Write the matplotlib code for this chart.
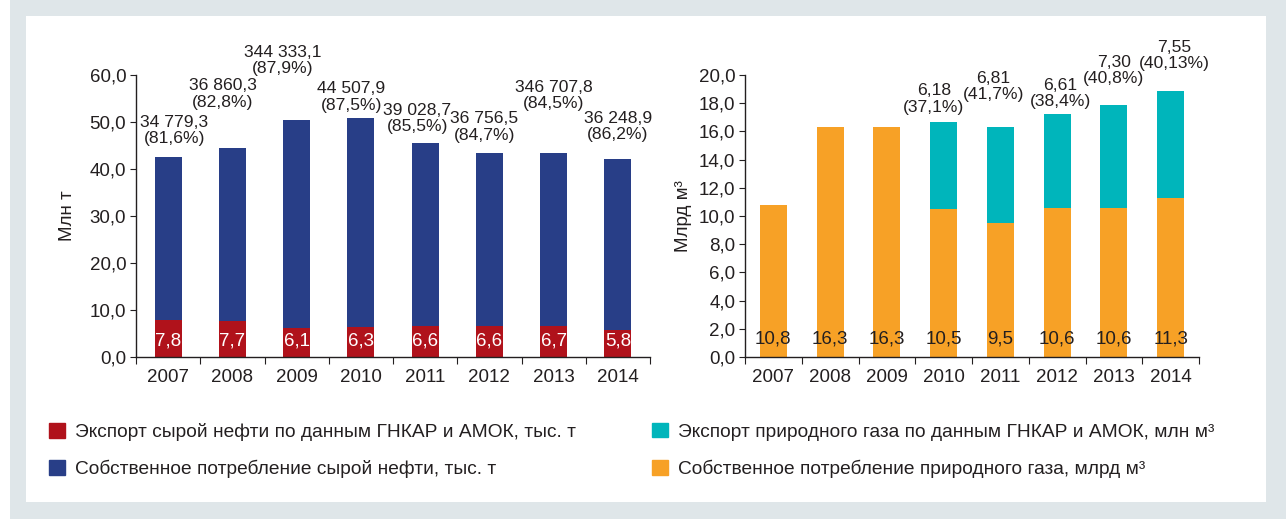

# oil and gas charts: export vs own consumption, 2007-2014
import matplotlib
matplotlib.use("Agg")
import matplotlib.pyplot as plt
from matplotlib.patches import Rectangle, Patch
from matplotlib.ticker import FuncFormatter

plt.rcParams['font.family'] = ['Liberation Sans', 'DejaVu Sans']

years = ['2007', '2008', '2009', '2010', '2011', '2012', '2013', '2014']

# oil, mln t
oil_export = [7.8, 7.7, 6.1, 6.3, 6.6, 6.6, 6.7, 5.8]
oil_own = [34.7793, 36.8603, 44.3331, 44.5079, 39.0287, 36.7565, 36.7078, 36.2489]
oil_export_labels = ['7,8', '7,7', '6,1', '6,3', '6,6', '6,6', '6,7', '5,8']
oil_top_labels = ['34 779,3\n(81,6%)', '36 860,3\n(82,8%)', '344 333,1\n(87,9%)',
                  '44 507,9\n(87,5%)', '39 028,7\n(85,5%)', '36 756,5\n(84,7%)',
                  '346 707,8\n(84,5%)', '36 248,9\n(86,2%)']

# gas, bln m3
gas_own = [10.8, 16.3, 16.3, 10.5, 9.5, 10.6, 10.6, 11.3]
gas_export = [0, 0, 0, 6.18, 6.81, 6.61, 7.30, 7.55]
gas_own_labels = ['10,8', '16,3', '16,3', '10,5', '9,5', '10,6', '10,6', '11,3']
gas_top_labels = ['', '', '', '6,18\n(37,1%)', '6,81\n(41,7%)', '6,61\n(38,4%)',
                  '7,30\n(40,8%)', '7,55\n(40,13%)']

# label placement (x shift in categories, y centre in data units)
oil_lbl_dx = [0.1, -0.15, -0.22, -0.15, -0.12, -0.08, 0.0, 0.0]
oil_lbl_y = [48.2, 55.95, 63.1, 55.3, 50.8, 48.9, 55.65, 49.1]
gas_lbl_dx = [0, 0, 0, -0.17, -0.12, 0.06, 0.0, 0.07]
gas_lbl_y = [0, 0, 0, 18.3, 19.2, 18.7, 20.3, 21.4]

RED = '#B0121B'
BLUE = '#283E87'
CYAN = '#00B5BB'
ORANGE = '#F7A126'
TXT = '#231F20'
BG = '#DFE6E9'
FS = 13.5      # ticks, bar values
FS_TOP = 12.6  # labels above bars
FS_LEG = 13.8

W, H = 1286, 519
fig = plt.figure(figsize=(W / 100, H / 100), dpi=100)
fig.patch.set_facecolor('white')
fig.patches.append(Rectangle((10 / W, 0), 1 - 10 / W, 1, transform=fig.transFigure,
                             facecolor=BG, edgecolor='none', zorder=-10))
fig.patches.append(Rectangle((26 / W, 17 / H), 1240 / W, 486 / H, transform=fig.transFigure,
                             facecolor='white', edgecolor='none', zorder=-9))

comma = FuncFormatter(lambda v, p: ('%.1f' % v).replace('.', ','))


def style_axes(ax, ymax, ystep):
    ax.set_xlim(-0.5, 7.5)
    ax.set_ylim(0, ymax)
    ax.spines['top'].set_visible(False)
    ax.spines['right'].set_visible(False)
    for s in ('left', 'bottom'):
        ax.spines[s].set_color(TXT)
        ax.spines[s].set_linewidth(1.0)
    ax.set_yticks([i * ystep for i in range(int(round(ymax / ystep)) + 1)])
    ax.yaxis.set_major_formatter(comma)
    ax.set_xticks([i - 0.5 for i in range(9)])
    ax.set_xticklabels([])
    ax.set_xticks(range(8), minor=True)
    ax.set_xticklabels(years, minor=True)
    ax.tick_params(axis='x', which='major', direction='out', length=5, color=TXT)
    ax.tick_params(axis='x', which='minor', length=0, pad=9, labelsize=FS, labelcolor=TXT)
    ax.tick_params(axis='y', direction='out', length=4, color=TXT, labelsize=FS,
                   labelcolor=TXT, pad=3)
    ax.patch.set_alpha(0)


x = list(range(8))

# left chart - oil
ax1 = fig.add_axes([136 / W, (H - 357) / H, 514 / W, 282 / H])
ax1.bar(x, oil_export, width=0.42, color=RED)
ax1.bar(x, oil_own, width=0.42, bottom=oil_export, color=BLUE)
style_axes(ax1, 60, 10)
ax1.set_ylabel('Млн т', fontsize=FS, color=TXT, labelpad=10)
for i in x:
    ax1.text(i, 3.5, oil_export_labels[i], ha='center', va='center', color='white', fontsize=FS)
    ax1.text(i + oil_lbl_dx[i], oil_lbl_y[i], oil_top_labels[i], ha='center', va='center',
             color=TXT, fontsize=FS_TOP, linespacing=1.12)

# right chart - gas
ax2 = fig.add_axes([745 / W, (H - 357) / H, 454 / W, 282 / H])
ax2.bar(x, gas_own, width=0.48, color=ORANGE)
ax2.bar(x, gas_export, width=0.48, bottom=gas_own, color=CYAN)
style_axes(ax2, 20, 2)
ax2.set_ylabel('Млрд м³', fontsize=FS, color=TXT, labelpad=5)
for i in x:
    ax2.text(i, 1.25, gas_own_labels[i], ha='center', va='center', color=TXT, fontsize=FS)
    if gas_top_labels[i]:
        ax2.text(i + gas_lbl_dx[i], gas_lbl_y[i], gas_top_labels[i], ha='center', va='center',
                 color=TXT, fontsize=FS_TOP, linespacing=1.12)

# legends
leg_kw = dict(frameon=False, fontsize=FS_LEG, handlelength=0.83, handleheight=0.78,
              handletextpad=0.52, labelspacing=0.98, loc='upper left', labelcolor=TXT,
              borderaxespad=0, borderpad=0)
leg1 = fig.legend(handles=[Patch(color=RED, label='Экспорт сырой нефти по данным ГНКАР и АМОК, тыс. т'),
                           Patch(color=BLUE, label='Собственное потребление сырой нефти, тыс. т')],
                  bbox_to_anchor=(49 / W, 1 - 423 / H), **leg_kw)
leg2 = fig.legend(handles=[Patch(color=CYAN, label='Экспорт природного газа по данным ГНКАР и АМОК, млн м³'),
                           Patch(color=ORANGE, label='Собственное потребление природного газа, млрд м³')],
                  bbox_to_anchor=(652 / W, 1 - 423 / H), **leg_kw)

fig.savefig('out.png', dpi=100, facecolor=fig.get_facecolor())
